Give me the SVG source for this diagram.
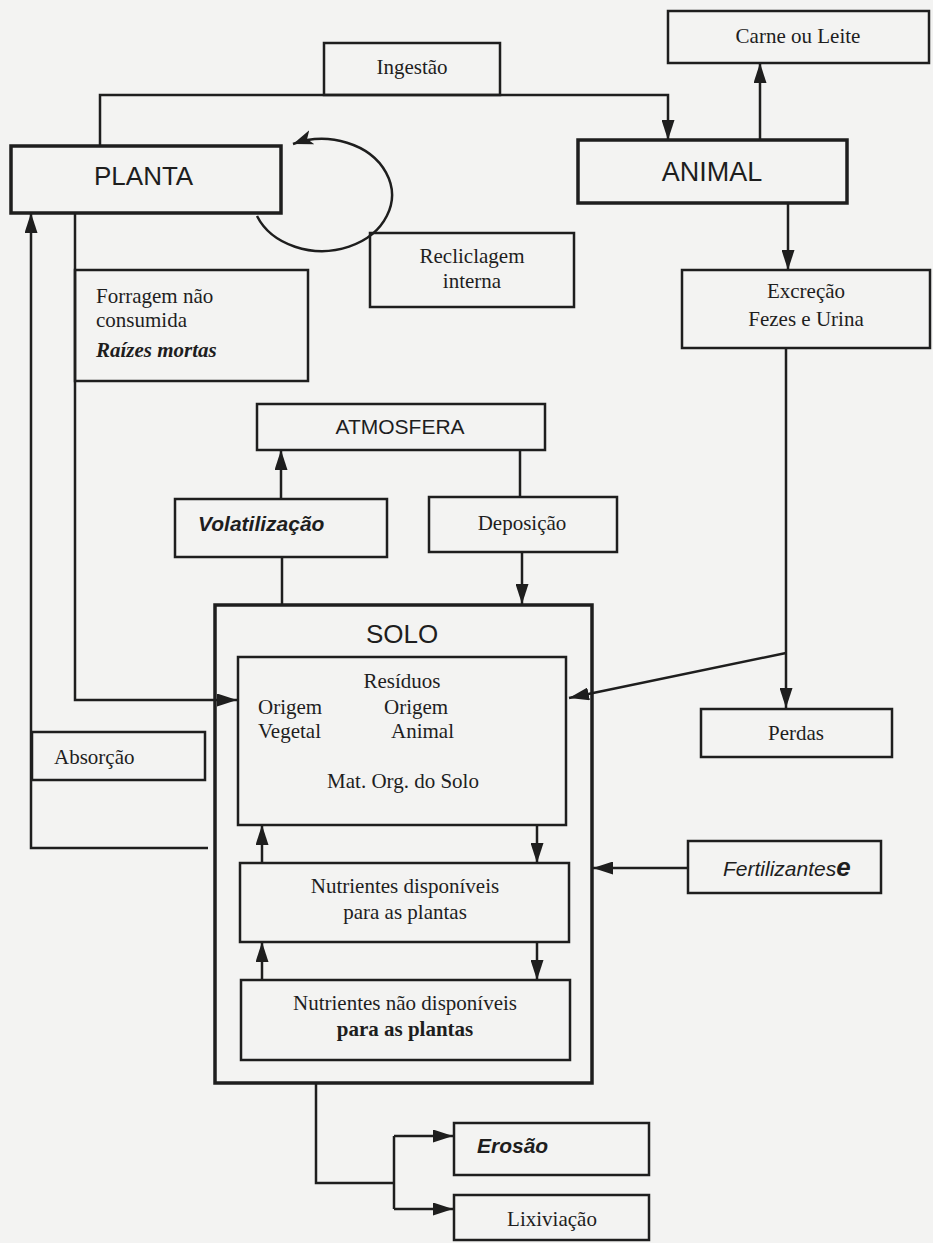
<svg xmlns="http://www.w3.org/2000/svg" width="933" height="1243" viewBox="0 0 933 1243">
<defs>
<marker id="arr" viewBox="0 0 20 13" refX="20" refY="6.5" markerWidth="20" markerHeight="13" orient="auto" markerUnits="userSpaceOnUse">
<path d="M0,0 L20,6.5 L0,13 z" fill="#1e1e1e"/>
</marker>
<marker id="arrc" viewBox="0 0 20 15" refX="20" refY="7.5" markerWidth="20" markerHeight="15" orient="auto" markerUnits="userSpaceOnUse">
<path d="M0,0 L20,7.5 L0,15 L5,7.5 z" fill="#1e1e1e"/>
</marker>
<style>
.box{fill:none;stroke:#1e1e1e;stroke-width:2.5}
.thick{fill:none;stroke:#1e1e1e;stroke-width:3.5}
.ln{fill:none;stroke:#1e1e1e;stroke-width:2.5}
.a{marker-end:url(#arr)}
.t{font-family:"Liberation Serif","Times New Roman",serif;font-size:21px;fill:#1e1e1e}
.c{text-anchor:middle}
.s{font-family:"Liberation Sans",Arial,sans-serif;fill:#1e1e1e}
</style>
</defs>
<rect x="0" y="0" width="933" height="1243" fill="#f3f3f2"/>
<g id="connectors">
<path class="ln a" d="M100,146 V95 H668 V140"/>
<path class="ln a" d="M760,140 V63"/>
<path class="ln a" d="M788,203 V270"/>
<path class="ln a" d="M786,348 V708"/>
<path class="ln a" d="M786,653 L569,698"/>
<path class="ln a" d="M75,213 V700 H237"/>
<path class="ln a" d="M208,848 H31 V213"/>
<path class="ln a" d="M281,499 V450"/>
<path class="ln" d="M282,557 V604"/>
<path class="ln" d="M520,450 V497"/>
<path class="ln a" d="M522,552 V604"/>
<path class="ln a" d="M688,868 H593"/>
<path class="ln a" d="M262,863 V825"/>
<path class="ln a" d="M537,825 V863"/>
<path class="ln a" d="M262,980 V942"/>
<path class="ln a" d="M537,942 V980"/>
<path class="ln" d="M316,1083 V1183 H394"/>
<path class="ln" d="M394,1136 V1209"/>
<path class="ln a" d="M394,1136 H453"/>
<path class="ln a" d="M394,1209 H453"/>
<path class="ln" style="marker-end:url(#arrc)" d="M257,216 A70 56 0 1 0 293,144"/>
</g>
<g id="carne"><rect class="box" x="668" y="11" width="261" height="52"/><text class="t c" x="798" y="43">Carne ou Leite</text></g>
<g id="ingestao"><rect class="box" x="324" y="43" width="176" height="52"/><text class="t c" x="412" y="74">Ingestão</text></g>
<g id="planta"><rect class="thick" x="11" y="146" width="270" height="67"/><text class="s" x="94" y="185" font-size="26">PLANTA</text></g>
<g id="animal"><rect class="thick" x="578" y="140" width="269" height="63"/><text class="s c" x="712" y="181" font-size="27">ANIMAL</text></g>
<g id="reciclagem"><rect class="box" x="370" y="233" width="204" height="74"/><text class="t c" x="472" y="263">Recliclagem</text><text class="t c" x="472" y="288">interna</text></g>
<g id="forragem"><rect class="box" x="75" y="270" width="233" height="111"/><text class="t" x="96" y="303">Forragem não</text><text class="t" x="96" y="327">consumida</text><text class="t" x="96" y="357" font-weight="bold" font-style="italic">Raízes mortas</text></g>
<g id="excrecao"><rect class="box" x="682" y="270" width="248" height="78"/><text class="t c" x="806" y="298">Excreção</text><text class="t c" x="806" y="326">Fezes e Urina</text></g>
<g id="atmosfera"><rect class="box" x="257" y="404" width="288" height="46"/><text class="s c" x="400" y="434" font-size="21">ATMOSFERA</text></g>
<g id="volatilizacao"><rect class="box" x="175" y="499" width="212" height="58"/><text class="s" x="198" y="531" font-size="21" font-weight="bold" font-style="italic">Volatilização</text></g>
<g id="deposicao"><rect class="box" x="429" y="497" width="188" height="55"/><text class="t c" x="522" y="530">Deposição</text></g>
<g id="solo"><rect class="thick" x="215" y="605" width="377" height="478"/><text class="s c" x="402" y="643" font-size="26">SOLO</text></g>
<g id="residuos"><rect class="box" x="238" y="657" width="328" height="168"/><text class="t c" x="402" y="688">Resíduos</text><text class="t" x="258" y="714">Origem</text><text class="t" x="258" y="738">Vegetal</text><text class="t" x="384" y="714">Origem</text><text class="t" x="391" y="738">Animal</text><text class="t c" x="403" y="788">Mat. Org. do Solo</text></g>
<g id="perdas"><rect class="box" x="701" y="709" width="191" height="48"/><text class="t c" x="796" y="740">Perdas</text></g>
<g id="absorcao"><rect class="box" x="32" y="732" width="173" height="48"/><text class="t" x="54" y="764">Absorção</text></g>
<g id="fertilizantes"><rect class="box" x="688" y="841" width="193" height="52"/><text class="s" x="723" y="876" font-size="21" font-style="italic">Fertilizantes<tspan font-weight="bold" font-size="26">e</tspan></text></g>
<g id="nutdisp"><rect class="box" x="240" y="863" width="329" height="79"/><text class="t c" x="405" y="893">Nutrientes disponíveis</text><text class="t c" x="405" y="919">para as plantas</text></g>
<g id="nutnaodisp"><rect class="box" x="241" y="980" width="329" height="80"/><text class="t c" x="405" y="1010">Nutrientes não disponíveis</text><text class="t c" x="405" y="1036" font-weight="bold">para as plantas</text></g>
<g id="erosao"><rect class="box" x="454" y="1123" width="195" height="52"/><text class="s" x="477" y="1153" font-size="21" font-weight="bold" font-style="italic">Erosão</text></g>
<g id="lixiviacao"><rect class="box" x="454" y="1195" width="195" height="45"/><text class="t c" x="552" y="1226">Lixiviação</text></g>
</svg>
